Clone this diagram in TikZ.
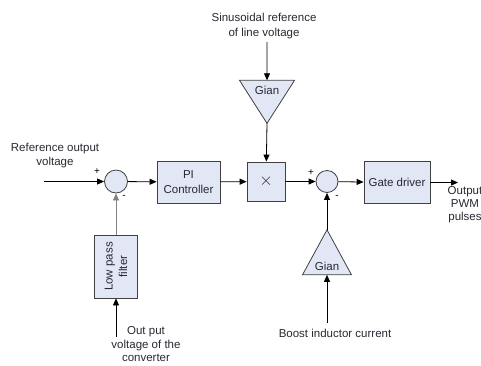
\documentclass[tikz,border=0pt]{standalone}
\usepackage{fontspec}
\setmainfont{Liberation Sans}
\usetikzlibrary{arrows.meta,shapes.geometric,positioning}
\definecolor{blkfill}{RGB}{226,231,245}
\definecolor{blkline}{RGB}{64,64,64}
\definecolor{lbltext}{RGB}{40,40,50}
\definecolor{fbline}{RGB}{130,130,130}
\tikzset{
  blk/.style={draw=blkline, fill=blkfill, line width=0.8pt, align=center, inner sep=2pt, text=lbltext},
  sumnode/.style={circle, draw=blkline, fill=blkfill, line width=0.8pt, minimum size=23pt, inner sep=0pt},
  gainnode/.style={isosceles triangle, isosceles triangle stretches, draw=blkline, fill=blkfill,
    line width=0.8pt, inner sep=0pt, outer sep=0pt, text=lbltext},
  sig/.style={-{Triangle[length=7pt,width=6pt]}, line width=0.8pt},
  lbl/.style={align=center, text=lbltext},
  sign/.style={font=\fontsize{10}{10}\selectfont, inner sep=0pt},
}
\begin{document}
\begin{tikzpicture}[x=1pt, y=-1pt, font=\fontsize{11.5}{14.5}\selectfont]
  \useasboundingbox (0,0) rectangle (481,365);
  % blocks of the main path
  \node[sumnode] (sumA) at (116,181.5) {};
  \node[blk, minimum width=63pt, minimum height=42pt] (pic) at (188.5,182) {PI\\Controller};
  \node[blk, minimum width=38pt, minimum height=39pt, font=\fontsize{16}{16}\selectfont] (mult) at (266,181.5) {$\times$};
  \node[sumnode, minimum size=22pt] (sumB) at (327,181.5) {};
  \node[blk, minimum width=66pt, minimum height=42pt] (gate) at (397,182.5) {Gate driver};
  \node[blk, rotate=90, minimum width=63pt, minimum height=43pt] (lpf) at (116,266.5) {Low pass\\filter};
  \node[gainnode, shape border rotate=270, minimum width=55pt, minimum height=43pt] (gainA) at (267,90) {Gian};
  \node[gainnode, shape border rotate=90, minimum width=49pt, minimum height=45pt] (gainB) at (327,266) {Gian};
  % texts
  \node[lbl] (reflbl) at (55,155.5) {Reference output\\voltage};
  \node[lbl] (sinlbl) at (264,26) {Sinusoidal reference\\of line voltage};
  \node[lbl, font=\fontsize{11.5}{13}\selectfont] (pwmlbl) at (465,204.5) {Output\\PWM\\pulses};
  \node[lbl, font=\fontsize{11.5}{13.5}\selectfont] (volbl) at (146,344.5) {Out put\\voltage of the\\converter};
  \node[lbl] (ilbl) at (335,333) {Boost inductor current};
  \node[sign] at (97,172) {+};
  \node[sign] at (124,197) {-};
  \node[sign] at (311,173) {+};
  \node[sign] at (337,197) {-};
  % free ends
  \coordinate (vin) at (44,181.5);
  \coordinate (pwm) at (458,182.5);
  \coordinate (vo) at (116,337);
  \coordinate (iin) at (327,323);
  % connectors
  \draw[sig] (vin) -- (sumA);
  \draw[sig] (sumA) -- (pic);
  \draw[sig] (pic) -- (mult);
  \draw[sig] (mult) -- (sumB);
  \draw[sig] (sumB) -- (gate);
  \draw[sig] (gate) -- (pwm);
  \draw[sig] (sinlbl.south -| gainA) -- (gainA);
  \draw[sig] (gainA.apex) -- (mult);
  \draw[sig, draw=fbline] (lpf) -- (sumA);
  \draw[sig] (vo) -- (lpf);
  \draw[sig] (iin) -- (gainB);
  \draw[sig] (gainB.apex) -- (sumB);
\end{tikzpicture}
\end{document}
